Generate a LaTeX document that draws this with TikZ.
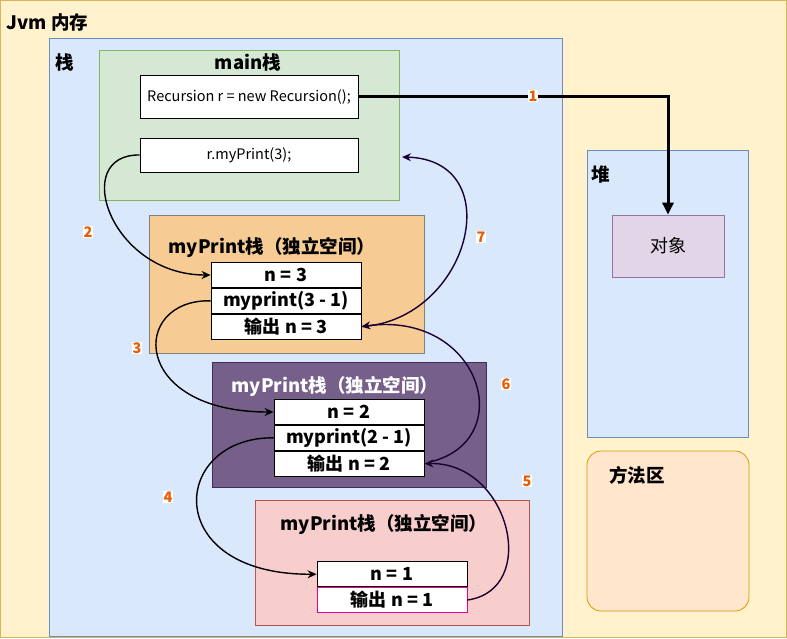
\documentclass[tikz,border=0pt]{standalone}
\usepackage{fontspec}
\setmainfont{Noto Sans CJK SC}
\usetikzlibrary{positioning, arrows.meta}
\definecolor{jvmfill}{HTML}{FFF2CC}
\definecolor{jvmline}{HTML}{D6B656}
\definecolor{stackfill}{HTML}{DAE8FC}
\definecolor{stackline}{HTML}{6C8EBF}
\definecolor{mainfill}{HTML}{D5E8D4}
\definecolor{mainline}{HTML}{82B366}
\definecolor{objfill}{HTML}{E1D5E7}
\definecolor{objline}{HTML}{9673A6}
\definecolor{methfill}{HTML}{FFE6CC}
\definecolor{methline}{HTML}{D79B00}
\definecolor{onefill}{HTML}{F7CB94}
\definecolor{twofill}{HTML}{76608A}
\definecolor{twoline}{HTML}{432D57}
\definecolor{threefill}{HTML}{F8CECC}
\definecolor{threeline}{HTML}{B85450}
\definecolor{retcol}{HTML}{190033}
\definecolor{numcol}{HTML}{E85D00}
\tikzset{
    region/.style={draw, line width=0.8pt},
    title/.style={font=\bfseries\fontsize{18.5}{21}\selectfont},
    code/.style={draw, fill=white, line width=0.8pt, font=\fontsize{14.5}{16}\selectfont},
    cell/.style={draw, fill=white, line width=0.8pt, minimum width=150pt, minimum height=25pt, inner sep=0pt, font=\bfseries\fontsize{18}{20}\selectfont},
    call/.style={line width=1.4pt, -{Stealth[length=9pt,width=8pt]}},
    back/.style={call, draw=retcol},
    num/.style={fill=white, inner sep=1pt, text=numcol, font=\bfseries\fontsize{14.5}{16}\selectfont}
}
\begin{document}
\begin{tikzpicture}[x=1pt, y=-1pt]
    \useasboundingbox (0,0) rectangle (787,638);

    %Regions
    \draw[region, fill=jvmfill, draw=jvmline] (0.5,0.5) rectangle (786.5,637.5);
    \node[title, anchor=west] (jvm) at (3,22) {Jvm 内存};
    \draw[region, fill=stackfill, draw=stackline] (49,38) rectangle (562,636);
    \node[title, anchor=west] (zhan) at (52,62) {栈};
    \draw[region, fill=mainfill, draw=mainline] (99,50) rectangle (399,200);
    \node[title] (mainzhan) at (248,62) {main栈};
    \draw[region, fill=stackfill, draw=stackline] (587,150) rectangle (748,437);
    \node[title, anchor=west] (dui) at (588,175) {堆};
    \draw[region, fill=methfill, draw=methline, rounded corners=14pt] (587,451) rectangle (749,611);
    \node[title] (fangfa) at (637,475) {方法区};

    %Nodes in main
    \node[code, minimum width=218pt, minimum height=43pt] (newobj) at (249,96.5) {Recursion r = new Recursion();};
    \node[code, minimum width=218pt, minimum height=34pt] (callmain) at (249,155) {r.myPrint(3);};
    \node[draw=objline, fill=objfill, line width=0.8pt, minimum width=112pt, minimum height=62pt, font=\fontsize{18}{20}\selectfont] (obj) at (668,246) {对象};

    %myPrint frames
    \draw[region, fill=onefill, draw=gray] (149,215) rectangle (424,353);
    \node[title] (frameone) at (272,247) {myPrint栈（独立空间）};
    \node[cell] (nthree) at (286,275) {n = 3};
    \node[cell, below=0pt of nthree] (callthree) {myprint(3 - 1)};
    \node[cell, below=0pt of callthree] (outthree) {输出 n = 3};

    \draw[region, fill=twofill, draw=twoline] (212,362) rectangle (486,487);
    \node[title, text=white] (frametwo) at (335,386) {myPrint栈（独立空间）};
    \node[cell] (ntwo) at (349,412) {n = 2};
    \node[cell, below=0pt of ntwo] (calltwo) {myprint(2 - 1)};
    \node[cell, below=0pt of calltwo] (outtwo) {输出 n = 2};

    \draw[region, fill=threefill, draw=threeline] (255,500) rectangle (529,625);
    \node[title] (framethree) at (384,524) {myPrint栈（独立空间）};
    \node[cell, draw=magenta] (outone) at (392,600) {输出 n = 1};
    \node[cell, above=0pt of outone] (none) {n = 1};

    %Calls
    \draw[line width=3pt, -{Triangle[length=12pt,width=11pt]}] (newobj.east) -- (668,96.5) coordinate (turn) -- (obj.north);
    \node[num] (lone) at (533,96) {1};
    \draw[call] (callmain.west) .. controls (70,154) and (110,275) .. (nthree.west);
    \node[num] (ltwo) at (88,232) {2};
    \draw[call] (callthree.west) .. controls (130,299) and (130,412) .. (ntwo.west);
    \node[num] (lthree) at (137,348) {3};
    \draw[call] (calltwo.west) .. controls (170,437) and (160,575) .. (none.west);
    \node[num] (lfour) at (168,497) {4};

    %Returns
    \draw[back] (outone.east) .. controls (540,590) and (510,462) .. (outtwo.east);
    \node[num] (lfive) at (527,481) {5};
    \draw[back] (430,462) .. controls (520,440) and (480,310) .. (outthree.east);
    \node[num] (lsix) at (506,384) {6};
    \draw[back] (outthree.east) .. controls (470,320) and (510,160) .. (402,157);
    \node[num] (lseven) at (481,237) {7};
\end{tikzpicture}
\end{document}
